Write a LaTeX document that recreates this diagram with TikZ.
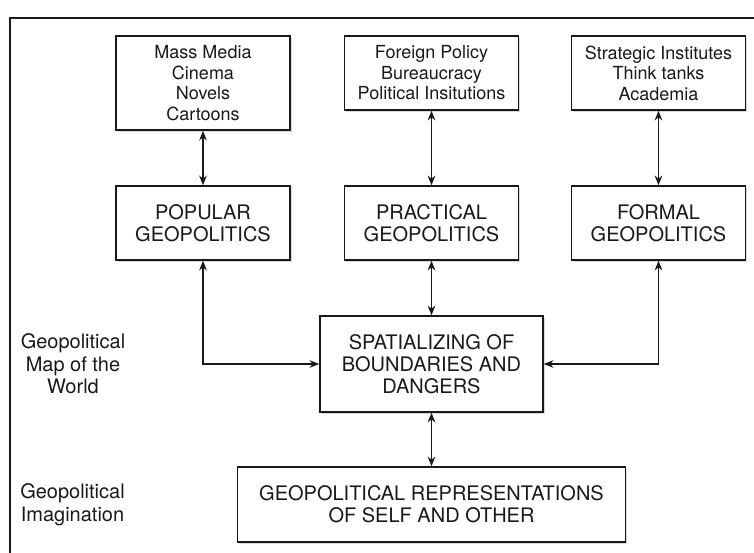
\documentclass[tikz,border=0pt]{standalone}
\usepackage{fontspec}
\setmainfont{TeX Gyre Heros}
\usetikzlibrary{positioning,arrows.meta,shadows}

\tikzset{
  srcbox/.style={draw, line width=0.8pt, fill=white, minimum width=87pt, minimum height=37pt,
    inner sep=0pt, align=center, font=\fontsize{9}{10.25}\selectfont,
    drop shadow={shadow xshift=0.9pt,shadow yshift=-0.9pt,opacity=0.3}},
  geobox/.style={srcbox, font=\fontsize{10}{11}\selectfont},
  sidelabel/.style={align=center, font=\fontsize{10}{11.2}\selectfont},
}

\begin{document}
\begin{tikzpicture}[on grid, node distance=75pt, >={Stealth[length=4.8pt,width=3.8pt]},
    line width=0.9pt, color=black!90]
  \useasboundingbox (0,0) rectangle (377pt,-276pt);
  \draw[line width=0.6pt] (5pt,-290pt) |- (390pt,-9pt);

  \node[geobox] (Practical) at (215.75pt,-111.5pt) {PRACTICAL\\GEOPOLITICS};
  \node[geobox, left=114.25pt of Practical] (Popular) {POPULAR\\GEOPOLITICS};
  \node[geobox, right=113.5pt of Practical] (Formal) {FORMAL\\GEOPOLITICS};
  \node[srcbox, above=of Practical] (Bureau) {Foreign Policy\\Bureaucracy\\Political Insitutions};
  \node[srcbox, above=of Formal] (Think) {Strategic Institutes\\Think tanks\\Academia};
  \node[srcbox, minimum height=47pt, above=70pt of Popular] (Media) {Mass Media\\Cinema\\Novels\\Cartoons};
  \node[geobox, minimum width=111.5pt, minimum height=48pt, below=70.5pt of Practical] (Spatial) {SPATIALIZING OF\\BOUNDARIES AND\\DANGERS};
  \node[geobox, minimum width=194pt, minimum height=37.5pt, below=70.25pt of Spatial] (Repr) {GEOPOLITICAL REPRESENTATIONS\\OF SELF AND OTHER};
  \node[sidelabel, left=179.25pt of Spatial] (MapLbl) {Geopolitical\\Map of the\\World};
  \node[sidelabel, left=179.5pt of Repr] (ImagLbl) {Geopolitical\\Imagination};

  \draw[<->] (Media) -- (Popular);
  \draw[<->] (Bureau) -- (Practical);
  \draw[<->] (Think) -- (Formal);
  \draw[<->] (Practical) -- (Spatial);
  \draw[<->] (Spatial) -- (Repr);
  \draw[<->] (Popular) |- (Spatial);
  \draw[<->] (Formal) |- (Spatial);
\end{tikzpicture}
\end{document}
